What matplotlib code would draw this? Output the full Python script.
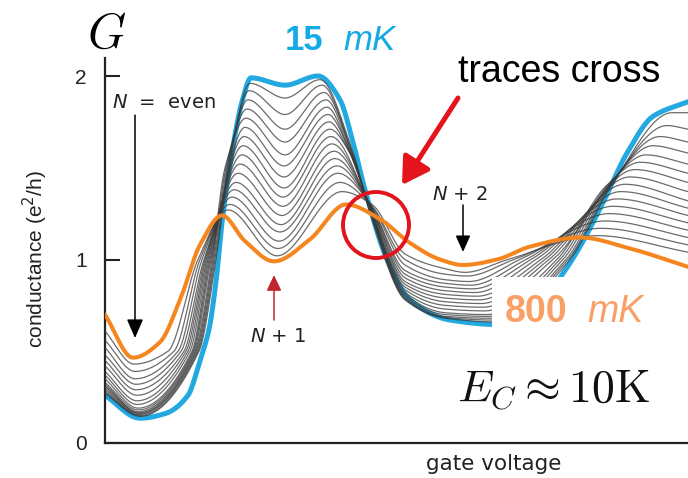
import numpy as np
import matplotlib
matplotlib.use("Agg")
import matplotlib.pyplot as plt
from matplotlib.patches import Ellipse, Rectangle

# ---------------- data (gate voltage in arbitrary units, G in e^2/h) ----------------
# 15 mK trace: knots (gate voltage, conductance)
COLD_V = [0, 35, 60, 83, 95, 104, 111, 117, 126, 137, 146, 180, 213, 235, 247, 259,
          282, 305, 345, 395, 427, 455, 475, 498, 522, 548, 583]
COLD_G = [0.26, 0.135, 0.16, 0.26, 0.45, 0.62, 0.88, 1.20, 1.55, 1.86, 1.99, 1.95, 2.00,
          1.87, 1.66, 1.40, 1.00, 0.78, 0.67, 0.645, 0.71, 0.90, 1.07, 1.31, 1.58, 1.78, 1.86]

# 800 mK trace
HOT_V = [0, 28, 55, 75, 95, 117, 140, 169, 205, 241, 275, 305, 335, 358, 392, 425,
         475, 525, 583]
HOT_G = [0.70, 0.465, 0.55, 0.78, 1.08, 1.24, 1.10, 0.99, 1.11, 1.30, 1.22, 1.09, 1.00,
         0.97, 1.00, 1.07, 1.12, 1.06, 0.96]

# intermediate temperatures (coldest first): characteristic points of each trace
START_G = [0.27, 0.28, 0.29, 0.30, 0.31, 0.32, 0.33, 0.35, 0.37, 0.39, 0.42, 0.45, 0.48, 0.52, 0.56, 0.61]
MIN1_V = [35, 35, 34, 34, 34, 33, 33, 33, 32, 32, 32, 31, 31, 30, 30, 29]
MIN1_G = [0.145, 0.15, 0.155, 0.16, 0.165, 0.17, 0.18, 0.19, 0.21, 0.23, 0.26, 0.29, 0.32, 0.35, 0.39, 0.43]
RISE05_V = [94, 93, 92, 91, 90, 89, 88, 87, 85, 83, 81, 79, 76, 73, 69, 63]
RISE10_V = [111, 110, 109, 108, 107, 106, 105, 104, 103, 102, 101, 100, 99, 97, 95, 93]
RISE15_V = [124, 123, 122, 121, 120]
PEAK1_V = [145, 144, 143, 142, 141, 140, 139, 138, 137, 135, 133, 131, 129, 127, 125, 123]
PEAK1_G = [1.96, 1.92, 1.87, 1.82, 1.77, 1.72, 1.67, 1.62, 1.57, 1.52, 1.47, 1.42, 1.38, 1.34, 1.30, 1.27]
DIP_V = [180, 180, 180, 180, 180, 179, 179, 179, 178, 178, 177, 176, 175, 174, 173, 172]
DIP_G = [1.88, 1.79, 1.71, 1.64, 1.57, 1.51, 1.45, 1.39, 1.34, 1.29, 1.24, 1.19, 1.15, 1.10, 1.06, 1.02]
PEAK2_V = [215, 217, 219, 221, 222, 223, 224, 225, 226, 227, 229, 230, 232, 233, 235, 237]
PEAK2_G = [1.98, 1.95, 1.91, 1.87, 1.83, 1.79, 1.75, 1.71, 1.67, 1.63, 1.59, 1.55, 1.51, 1.47, 1.42, 1.37]
FALL16_V = [247, 246, 246, 245, 244, 244, 243, 243]
CROSS_V = 267
CROSS_G = [1.22, 1.23, 1.23, 1.24, 1.24, 1.25, 1.25, 1.26, 1.26, 1.27, 1.27, 1.28, 1.28, 1.29, 1.29, 1.30]
FALL_V = [300, 340]
FALL_G = [
    [0.78, 0.785, 0.79, 0.80, 0.81, 0.82, 0.835, 0.85, 0.865, 0.88, 0.90, 0.92, 0.94, 0.97, 1.00, 1.03],
    [0.68, 0.685, 0.69, 0.70, 0.71, 0.73, 0.75, 0.77, 0.79, 0.81, 0.83, 0.85, 0.87, 0.89, 0.92, 0.95],
]
VALLEY_V = [390, 388, 386, 384, 382, 380, 378, 376, 374, 372, 370, 368, 366, 364, 362, 360]
VALLEY_G = [0.66, 0.67, 0.68, 0.69, 0.70, 0.72, 0.74, 0.76, 0.78, 0.80, 0.82, 0.84, 0.86, 0.88, 0.91, 0.93]
RISE10R_V = [465, 463, 461, 458, 455, 452, 448, 444, 440, 436, 431, 426, 421, 415, 409, 403]
RISE14R_V = [506, 505, 504, 503, 502, 501]
PEAK3_V = [567, 562, 555, 548, 541, 535, 530, 525, 520, 516, 512, 508, 504, 500, 496, 492]
PEAK3_G = [1.80, 1.73, 1.67, 1.62, 1.57, 1.53, 1.49, 1.45, 1.41, 1.37, 1.33, 1.29, 1.25, 1.21, 1.17, 1.13]
END_G = [1.80, 1.71, 1.64, 1.58, 1.52, 1.47, 1.42, 1.37, 1.32, 1.28, 1.24, 1.20, 1.16, 1.12, 1.08, 1.04]

V_MAX = 583
G_TOP = 385 / 183.5

BLUE = "#22a9e1"
ORANGE = "#f5861f"
RED = "#e3141c"
DARKRED = "#c0262c"


def pchip(xk, yk, xs):
    """Monotone piecewise cubic (Fritsch-Carlson) through the knots."""
    xk = np.asarray(xk, float)
    yk = np.asarray(yk, float)
    h = np.diff(xk)
    d = np.diff(yk) / h
    n = len(xk)
    m = np.zeros(n)
    m[0], m[-1] = d[0], d[-1]
    for i in range(1, n - 1):
        if d[i - 1] * d[i] > 0:
            w1 = 2 * h[i] + h[i - 1]
            w2 = h[i] + 2 * h[i - 1]
            m[i] = (w1 + w2) / (w1 / d[i - 1] + w2 / d[i])
    idx = np.clip(np.searchsorted(xk, xs) - 1, 0, n - 2)
    t = (xs - xk[idx]) / h[idx]
    h00 = 2 * t**3 - 3 * t**2 + 1
    h10 = t**3 - 2 * t**2 + t
    h01 = -2 * t**3 + 3 * t**2
    h11 = t**3 - t**2
    return (h00 * yk[idx] + h10 * h[idx] * m[idx]
            + h01 * yk[idx + 1] + h11 * h[idx] * m[idx + 1])


def trace_knots(k):
    pts = [(0, START_G[k]), (MIN1_V[k], MIN1_G[k])]
    if MIN1_G[k] < 0.45:
        pts.append((RISE05_V[k], 0.5))
    pts.append((RISE10_V[k], 1.0))
    if k < len(RISE15_V):
        pts.append((RISE15_V[k], 1.5))
    pts += [(PEAK1_V[k], PEAK1_G[k]), (DIP_V[k], DIP_G[k]), (PEAK2_V[k], PEAK2_G[k])]
    if k < len(FALL16_V) and PEAK2_G[k] > 1.7:
        pts.append((FALL16_V[k], 1.6))
    pts.append((CROSS_V, CROSS_G[k]))
    pts += [(v, g[k]) for v, g in zip(FALL_V, FALL_G)]
    pts += [(VALLEY_V[k], VALLEY_G[k]), (RISE10R_V[k], 1.0)]
    if k < len(RISE14R_V) and PEAK3_G[k] >= 1.5:
        pts.append((RISE14R_V[k], 1.4))
    pts += [(PEAK3_V[k], PEAK3_G[k]), (V_MAX, END_G[k])]
    v, g = zip(*pts)
    return v, g


# ---------------- figure ----------------
W, H = 688, 478
fig = plt.figure(figsize=(W / 100, H / 100), dpi=100)
ax = fig.add_axes([105 / W, 35 / H, 583 / W, 385 / H])
ax.set_xlim(0, V_MAX)
ax.set_ylim(0, G_TOP)

xs = np.linspace(0, V_MAX, 1500)

ax.plot(xs, pchip(COLD_V, COLD_G, xs), color=BLUE, lw=3.6, zorder=2,
        solid_capstyle="round")
for k in range(len(START_G)):
    v, g = trace_knots(k)
    ax.plot(xs, pchip(v, g, xs), color="#3a3a3a", lw=0.9, alpha=0.75, zorder=3)
ax.plot(xs, pchip(HOT_V, HOT_G, xs), color=ORANGE, lw=2.9, zorder=4,
        solid_capstyle="round")

# blank panel behind the 800 mK label
ax.add_patch(Rectangle((387, 0.49), 200, 0.415, facecolor="white",
                       edgecolor="none", zorder=5, clip_on=False))

# spines and ticks
for s in ("top", "right"):
    ax.spines[s].set_visible(False)
for s in ("left", "bottom"):
    ax.spines[s].set_linewidth(1.6)
    ax.spines[s].set_color("#222222")
ax.set_xticks([])
ax.set_yticks([0, 1, 2])
ax.set_yticklabels(["0", "1", "2"], fontfamily="Liberation Sans", fontsize=15,
                   color="#222222")
ax.tick_params(axis="y", direction="in", length=11, width=1.5, pad=13,
               color="#222222")

# circle marking where traces cross
ax.add_patch(Ellipse((271, 1.188), 66, 66 / 183.5, fill=False, edgecolor=RED,
                     lw=2.8, zorder=6))


def arrow(tail, tip, color, lw, hl, hw):
    ax.annotate("", xy=tip, xytext=tail, zorder=7,
                arrowprops=dict(arrowstyle=f"-|>,head_length={hl},head_width={hw}",
                                mutation_scale=10, lw=lw, color=color,
                                shrinkA=0, shrinkB=0))


arrow((30, 1.787), (30, 0.572), "black", 1.1, 1.15, 0.5)
arrow((169, 0.67), (169, 0.915), DARKRED, 1.1, 0.95, 0.45)
arrow((358, 1.297), (358, 1.041), "black", 1.1, 1.0, 0.45)
arrow((353, 1.88), (297, 1.406), RED, 3.6, 1.6, 0.95)


def ftext(px, py, s, **kw):
    return fig.text(px / W, 1 - py / H, s, **kw)


ftext(107, 48, "$G$", fontsize=35, math_fontfamily="cm", ha="center",
      va="baseline")
ftext(285, 50, "15", fontsize=25, fontfamily="Liberation Sans",
      fontweight="bold", color="#14aae6", va="baseline")
ftext(343, 50, "mK", fontsize=25, fontfamily="Liberation Sans",
      fontstyle="italic", color="#14aae6", va="baseline")
ftext(458, 82, "traces cross", fontsize=27, fontfamily="Liberation Sans",
      color="black", va="baseline")
ftext(505, 322, "800", fontsize=27, fontfamily="Liberation Sans",
      fontweight="bold", color="#f8a066", va="baseline", zorder=8)
ftext(587, 322, "mK", fontsize=27, fontfamily="Liberation Sans",
      fontstyle="italic", color="#f8a066", va="baseline", zorder=8)
ftext(457, 403, r"$E_C \approx 10\mathrm{K}$", fontsize=33,
      math_fontfamily="cm", va="baseline", color="#111111")

ftext(112, 108, "$N$  =  even", fontsize=14, math_fontfamily="dejavusans",
      va="baseline", color="#222222")
ftext(278, 342, "$N$ + 1", fontsize=14, math_fontfamily="dejavusans",
      ha="center", va="baseline", color="#222222")
ftext(460, 200, "$N$ + 2", fontsize=14, math_fontfamily="dejavusans",
      ha="center", va="baseline", color="#222222")

ftext(35, 259, "conductance (e$^2$/h)", rotation=90, ha="center", va="center",
      fontsize=15, fontfamily=["Liberation Sans Narrow", "Liberation Sans"],
      math_fontfamily="dejavusans", color="#222222")
ftext(494, 464, "gate voltage", ha="center", va="center", fontsize=15.5,
      fontfamily="DejaVu Sans", color="#222222")

fig.savefig("out.png", dpi=100)
